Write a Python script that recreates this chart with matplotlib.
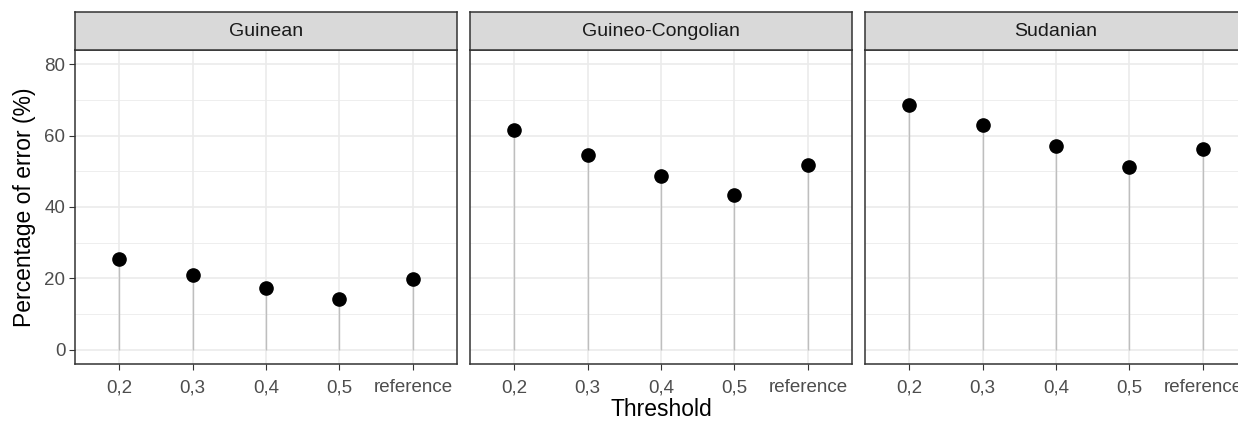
import matplotlib
matplotlib.use("Agg")
import matplotlib.pyplot as plt
import numpy as np

plt.rcParams["font.family"] = ["Liberation Sans", "DejaVu Sans"]

regions = ["Guinean", "Guineo-Congolian", "Sudanian"]
thresholds = ["0,2", "0,3", "0,4", "0,5", "reference"]
guinean = [25.5, 21.0, 17.4, 14.3, 19.7]
guineo_congolian = [61.7, 54.5, 48.7, 43.3, 51.8]
sudanian = [68.7, 62.9, 57.1, 51.3, 56.2]
error_pct = [guinean, guineo_congolian, sudanian]

W, H = 1238, 421
fig = plt.figure(figsize=(W / 100, H / 100), dpi=100)

panel_w = 382
panel_left = [75, 470, 865]
panel_top, panel_bottom = 50, 364
strip_h = 38

x = np.arange(1, len(thresholds) + 1)

for i, (name, vals) in enumerate(zip(regions, error_pct)):
    left = panel_left[i]
    ax = fig.add_axes([left / W, 1 - panel_bottom / H,
                       panel_w / W, (panel_bottom - panel_top) / H])
    ax.set_xlim(0.4, len(thresholds) + 0.6)
    ax.set_ylim(-4, 84)
    ax.set_facecolor("white")

    # grid
    for yv in [10, 30, 50, 70]:
        ax.axhline(yv, color="#EBEBEB", lw=0.6, zorder=0)
    for yv in [0, 20, 40, 60, 80]:
        ax.axhline(yv, color="#EBEBEB", lw=1.2, zorder=0)
    for xv in x:
        ax.axvline(xv, color="#EBEBEB", lw=1.2, zorder=0)

    # lollipops
    ax.vlines(x, 0, vals, color="#BEBEBE", lw=1.0, zorder=2)
    ax.plot(x, vals, "o", color="black", ms=9.5, zorder=3)

    ax.set_xticks(x)
    ax.set_xticklabels(thresholds)
    ax.set_yticks([0, 20, 40, 60, 80])
    ax.set_yticklabels(["0", "20", "40", "60", "80"])
    ax.tick_params(colors="#333333", labelcolor="#4D4D4D", labelsize=13.5,
                   length=4, width=0.8, pad=3)
    ax.tick_params(axis="x", pad=7)
    if i > 0:
        ax.tick_params(axis="y", labelleft=False, left=False)

    for sp in ax.spines.values():
        sp.set_color("#333333")
        sp.set_linewidth(1.1)

    # facet strip
    sax = fig.add_axes([left / W, 1 - panel_top / H,
                        panel_w / W, strip_h / H])
    sax.set_facecolor("#D9D9D9")
    sax.set_xticks([])
    sax.set_yticks([])
    for sp in sax.spines.values():
        sp.set_color("#333333")
        sp.set_linewidth(1.1)
    sax.text(0.5, 0.5, name, transform=sax.transAxes, ha="center",
             va="center", fontsize=14, color="#1A1A1A")

fig.text(25 / W, 1 - ((panel_top + panel_bottom) / 2) / H,
         "Percentage of error (%)", rotation=90, ha="center", va="center",
         fontsize=16.5, color="black")
fig.text((75 + 865 + panel_w) / 2 / W, 1 - 410 / H, "Threshold",
         ha="center", va="center", fontsize=16.5, color="black")

fig.savefig("out.png", dpi=100, facecolor="white")
